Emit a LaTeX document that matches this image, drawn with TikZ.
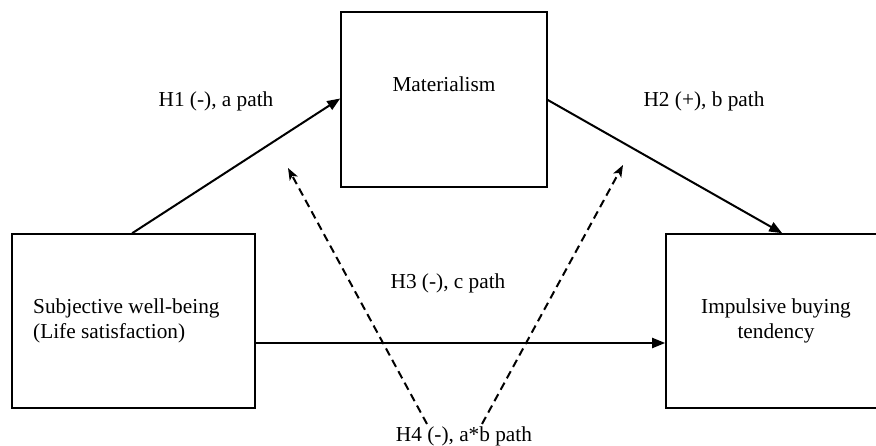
\documentclass[tikz,border=0pt]{standalone}
\usepackage{fontspec}
\setmainfont{Liberation Serif}
\usetikzlibrary{arrows.meta}
\begin{document}
\begin{tikzpicture}[x=1pt,y=-1pt,
  box/.style={draw, line width=1.6pt, inner sep=0pt},
  lbl/.style={inner sep=0pt, font=\fontsize{21.3}{25}\selectfont},
  solidarrow/.style={line width=2pt, -{Triangle[length=13pt,width=10pt]}},
  dasharrow/.style={line width=2pt, dash pattern=on 8pt off 5pt, -{Stealth[length=12pt,width=9pt,inset=3pt]}}]
\useasboundingbox (0,0) rectangle (876,446);
\clip (0,0) rectangle (876,446);
% boxes
\node[box, minimum width=206pt, minimum height=175pt] (mat) at (444,99.5) {};
\node[box, minimum width=243pt, minimum height=174pt] (swb) at (133.5,321) {};
\node[box, minimum width=240pt, minimum height=174pt] (ibt) at (786,321) {};
% box texts
\node[lbl, anchor=base] (matt) at (444,92) {Materialism};
\node[lbl, anchor=west, align=left] (swbt) at (33,320.5) {Subjective well-being\\(Life satisfaction)};
\node[lbl, anchor=center, align=center] (ibtt) at (776,320.5) {Impulsive buying\\tendency};
% path labels
\node[lbl, anchor=base] (h1) at (216,107) {H1 (-), a path};
\node[lbl, anchor=base] (h2) at (704,107) {H2 (+), b path};
\node[lbl, anchor=base] (h3) at (448,289) {H3 (-), c path};
\node[lbl, anchor=base] (h4) at (464,442) {H4 (-), a*b path};
% solid arrows
\draw[solidarrow] ([xshift=121pt]swb.north west) -- ([yshift=1pt]mat.west);
\draw[solidarrow] ([yshift=-0.5pt]mat.east) -- ([xshift=117pt]ibt.north west);
\draw[solidarrow] ([yshift=-22pt]swb.east) -- ([yshift=-22pt]ibt.west);
% dashed arrows
\coordinate (d1s) at (427,424);
\coordinate (d1e) at (288,168);
\coordinate (d2s) at (482,424);
\coordinate (d2e) at (623,165);
\draw[dasharrow] (d1s) -- (d1e);
\draw[dasharrow] (d2s) -- (d2e);
\end{tikzpicture}
\end{document}
